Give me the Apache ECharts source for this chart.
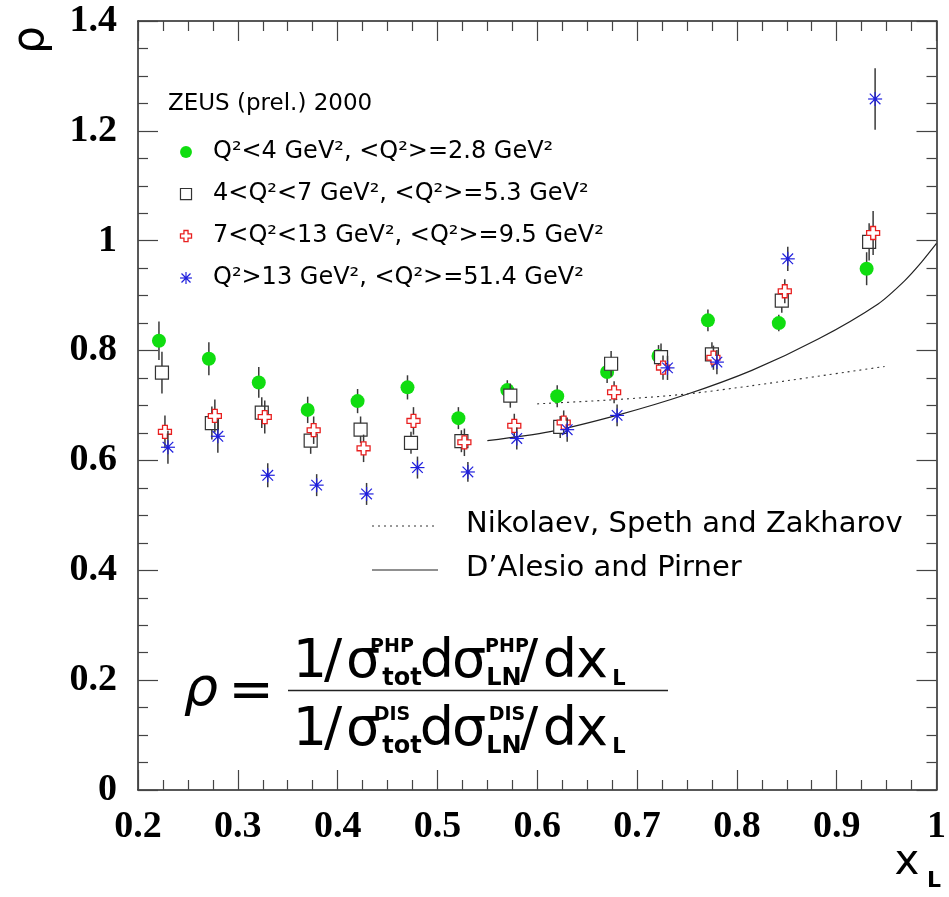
<!DOCTYPE html>
<html><head><meta charset="utf-8">
<script src="https://cdn.jsdelivr.net/npm/echarts@6/dist/echarts.min.js"></script>
<style>html,body{margin:0;padding:0;background:#fff}#c{width:949px;height:897px}</style>
</head><body><div id="c"></div>
<script>
// ---- data ----
const xQ1 = [0.221,0.271,0.321,0.370,0.420,0.470,0.521,0.570,0.620,0.670,0.7215,0.771,0.842,0.930];
const yQ1 = [0.818,0.785,0.742,0.692,0.708,0.733,0.677,0.728,0.717,0.761,0.790,0.855,0.850,0.949];
const eQ1 = [0.035,0.030,0.028,0.024,0.022,0.022,0.020,0.018,0.020,0.020,0.020,0.020,0.015,0.030];

const xQ2 = [0.224,0.274,0.324,0.373,0.423,0.4735,0.524,0.573,0.623,0.674,0.724,0.775,0.845,0.9325];
const yQ2 = [0.760,0.668,0.687,0.636,0.656,0.632,0.635,0.718,0.661,0.776,0.788,0.793,0.891,0.998];
const eQ2 = [0.038,0.030,0.028,0.024,0.024,0.020,0.020,0.022,0.020,0.023,0.025,0.022,0.022,0.034];

const xQ3 = [0.227,0.277,0.327,0.376,0.426,0.476,0.527,0.577,0.6265,0.677,0.726,0.7765,0.848,0.9365];
const yQ3 = [0.652,0.681,0.679,0.655,0.622,0.672,0.633,0.663,0.669,0.724,0.769,0.787,0.908,1.014];
const eQ3 = [0.030,0.030,0.030,0.025,0.025,0.025,0.025,0.022,0.022,0.020,0.022,0.022,0.022,0.040];

const xQ4 = [0.230,0.280,0.330,0.379,0.429,0.480,0.5305,0.5795,0.630,0.680,0.7305,0.780,0.851,0.9385];
const yQ4 = [0.624,0.644,0.573,0.555,0.539,0.587,0.579,0.640,0.656,0.682,0.7685,0.779,0.967,1.258];
const eQ4 = [0.030,0.030,0.022,0.020,0.020,0.020,0.018,0.020,0.022,0.020,0.022,0.022,0.022,0.056];

const xDP = [0.55,0.6115,0.6815,0.7485,0.815,0.8815,0.9415,0.968,0.985,1.0];
const yDP = [0.636,0.652,0.683,0.7195,0.764,0.821,0.885,0.927,0.961,0.995];

const xNSZ = [0.60,0.6815,0.75,0.815,0.948];
const yNSZ = [0.703,0.711,0.721,0.736,0.771];

const seriesNames = [
  'Q\u00b2<4 GeV\u00b2, <Q\u00b2>=2.8 GeV\u00b2',
  '4<Q\u00b2<7 GeV\u00b2, <Q\u00b2>=5.3 GeV\u00b2',
  '7<Q\u00b2<13 GeV\u00b2, <Q\u00b2>=9.5 GeV\u00b2',
  'Q\u00b2>13 GeV\u00b2, <Q\u00b2>=51.4 GeV\u00b2'
];
const curveNames = ['Nikolaev, Speth and Zakharov', "D\u2019Alesio and Pirner"];
const legendTitle = 'ZEUS (prel.) 2000';

// ---- drawing ----
const GREEN = '#10dd10', RED = '#e82020', BLUE = '#2020dd', BLK = '#333';

function markerEls(kind, cx, cy, s) {
  s = s || 1;
  if (kind === 'dot') {
    return [{type:'circle', shape:{cx:cx, cy:cy, r:7*s}, style:{fill:GREEN}}];
  }
  if (kind === 'square') {
    const h = 6.5*s;
    return [{type:'rect', shape:{x:cx-h, y:cy-h, width:2*h, height:2*h}, style:{fill:'#fff', stroke:BLK, lineWidth:1.2}}];
  }
  if (kind === 'cross') {
    const h = 6.5*s, a = 2.4*s;
    const pts = [[-a,-h],[a,-h],[a,-a],[h,-a],[h,a],[a,a],[a,h],[-a,h],[-a,a],[-h,a],[-h,-a],[-a,-a]]
      .map(p => [cx+p[0], cy+p[1]]);
    return [{type:'polygon', shape:{points:pts}, style:{fill:'#fff', stroke:RED, lineWidth:1.3}}];
  }
  // star
  const h = 7*s, d = 5.3*s;
  const ls = {stroke:BLUE, lineWidth:1.2};
  return [
    {type:'line', shape:{x1:cx-h, y1:cy, x2:cx+h, y2:cy}, style:ls},
    {type:'line', shape:{x1:cx, y1:cy-h, x2:cx, y2:cy+h}, style:ls},
    {type:'line', shape:{x1:cx-d, y1:cy-d, x2:cx+d, y2:cy+d}, style:ls},
    {type:'line', shape:{x1:cx-d, y1:cy+d, x2:cx+d, y2:cy-d}, style:ls},
    {type:'circle', shape:{cx:cx, cy:cy, r:1.8*s}, style:{fill:BLUE}}
  ];
}

function errSeries(name, xs, ys, es, kind) {
  const data = xs.map((x, i) => [x, ys[i], es[i]]);
  return {
    type:'custom', name:name, data:data, z:10, clip:false,
    encode:{x:0, y:1},
    renderItem:function(params, api) {
      const x = api.value(0), y = api.value(1), e = api.value(2);
      const c = api.coord([x, y]);
      const t = api.coord([x, y + e]);
      const b = api.coord([x, y - e]);
      const bar = {type:'line', shape:{x1:c[0], y1:t[1], x2:c[0], y2:b[1]}, style:{stroke:'#3a3a3a', lineWidth:1.5}};
      return {type:'group', children:[bar].concat(markerEls(kind, c[0], c[1], 1))};
    }
  };
}

const axisCommon = {
  type:'value',
  axisLine:{show:true, onZero:false, lineStyle:{color:'#222', width:1.5}},
  axisTick:{show:true, inside:true, length:20, lineStyle:{color:'#444', width:1.2}},
  minorTick:{show:true, splitNumber:4, length:10, lineStyle:{color:'#444', width:1.2}},
  splitLine:{show:false},
  minorSplitLine:{show:false}
};
const labelFont = {fontFamily:'Liberation Serif', fontWeight:'bold', fontSize:38, color:'#000'};

const graphics = [];
function txt(text, x, y, font, align, extra) {
  const el = {type:'text', style:Object.assign({text:text, x:x, y:y, font:font, fill:'#000',
    textAlign:align || 'left', textVerticalAlign:'middle'}, extra || {}), z:100};
  graphics.push(el);
  return el;
}
// Legend (top-left)
const LF = '24px "DejaVu Sans"';
txt(legendTitle, 168, 104, '23px "DejaVu Sans"');
const kinds = ['dot','square','cross','star'];
const rowY = [152, 194, 236, 278];
kinds.forEach((k, i) => {
  markerEls(k, 186, rowY[i], 0.85).forEach(el => { el.z = 100; graphics.push(el); });
  txt(seriesNames[i], 213, rowY[i], LF);
});
// Curve legend
const CF = '29px "DejaVu Sans"';
graphics.push({type:'line', z:100, shape:{x1:372, y1:526, x2:438, y2:526}, style:{stroke:'#333', lineWidth:1, lineDash:[2,4]}});
graphics.push({type:'line', z:100, shape:{x1:372, y1:570, x2:438, y2:570}, style:{stroke:'#222', lineWidth:1.2}});
txt(curveNames[0], 466, 524, CF);
txt(curveNames[1], 466, 568, CF);

// Formula
const MF = '54px "DejaVu Sans"';
const SB = 'bold 24px "DejaVu Sans"';
const SP = 'bold 19px "DejaVu Sans"';
txt('\u03c1', 201, 691, 'italic 54px "DejaVu Sans"', 'center');
txt('=', 251, 693, MF, 'center');
const rows = [{y:663, sup:'PHP'}, {y:731, sup:'DIS'}];
rows.forEach(r => {
  txt('1', 310, r.y, MF, 'center');
  txt('/', 333, r.y, MF, 'center');
  txt('\u03c3', 363, r.y, MF, 'center');
  txt(r.sup, 392, r.y - 16, SP, 'center');
  txt('tot', 402, r.y + 16, SB, 'center');
  txt('d', 437, r.y, MF, 'center');
  txt('\u03c3', 469, r.y, MF, 'center');
  txt(r.sup, 507, r.y - 16, SP, 'center');
  txt('LN', 504, r.y + 16, SB, 'center');
  txt('/', 529, r.y, MF, 'center');
  txt('d', 560, r.y, MF, 'center');
  txt('x', 592, r.y, MF, 'center');
  txt('L', 619, r.y + 17, 'bold 21px "DejaVu Sans"', 'center');
});
graphics.push({type:'line', z:100, shape:{x1:288, y1:690.5, x2:668, y2:690.5}, style:{stroke:'#222', lineWidth:1.5}});

// Axis titles
graphics.push({type:'text', z:100, x:32, y:40, rotation:Math.PI/2,
  style:{text:'\u03c1', x:0, y:0, font:'44px "DejaVu Sans"', fill:'#000', textAlign:'center', textVerticalAlign:'middle'}});
txt('x', 907, 863, '42px "DejaVu Sans"', 'center');
txt('L', 934, 881, 'bold 22px "DejaVu Sans"', 'center');

const option = {
  backgroundColor:'#fff',
  animation:false,
  grid:{left:138, right:10, top:21, bottom:107, containLabel:false},
  xAxis:[
    Object.assign({}, axisCommon, {position:'bottom', min:0.2, max:1, interval:0.1,
      axisLabel:Object.assign({show:true, margin:18}, labelFont)}),
    Object.assign({}, axisCommon, {position:'top', min:0.2, max:1, interval:0.1, axisLabel:{show:false}})
  ],
  yAxis:[
    Object.assign({}, axisCommon, {position:'left', min:0, max:1.4, interval:0.2,
      axisLabel:Object.assign({show:true, margin:21}, labelFont)}),
    Object.assign({}, axisCommon, {position:'right', min:0, max:1.4, interval:0.2, axisLabel:{show:false}})
  ],
  series:[
    {type:'line', name:curveNames[1], data:xDP.map((x,i)=>[x,yDP[i]]), symbol:'none', smooth:0.25,
      lineStyle:{color:'#222', width:1.2}, z:3},
    {type:'line', name:curveNames[0], data:xNSZ.map((x,i)=>[x,yNSZ[i]]), symbol:'none', smooth:0.25,
      lineStyle:{color:'#333', width:1.1, type:[2,4]}, z:3},
    errSeries(seriesNames[0], xQ1, yQ1, eQ1, 'dot'),
    errSeries(seriesNames[1], xQ2, yQ2, eQ2, 'square'),
    errSeries(seriesNames[2], xQ3, yQ3, eQ3, 'cross'),
    errSeries(seriesNames[3], xQ4, yQ4, eQ4, 'star')
  ],
  graphic:graphics
};
const chart = echarts.init(document.getElementById('c'));
chart.setOption(option);
</script>
</body></html>
